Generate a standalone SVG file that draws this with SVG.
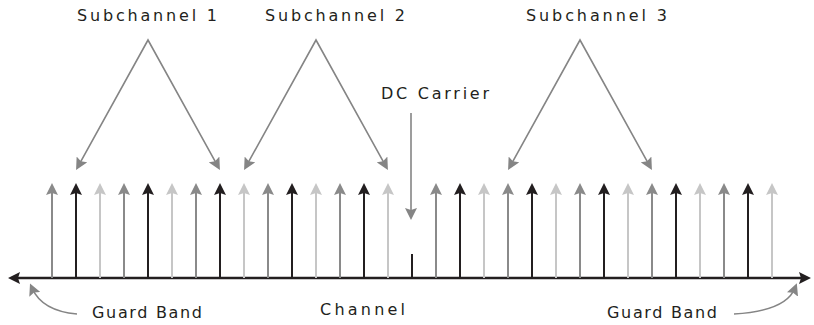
<svg xmlns="http://www.w3.org/2000/svg" width="814" height="325" viewBox="0 0 814 325">
<style>
text{font-family:"DejaVu Sans","Liberation Sans",sans-serif;font-size:16px;fill:#231f20}
.mid{stroke:#8a8a8a;stroke-width:2;fill:none}
.blk{stroke:#231f20;stroke-width:2;fill:none}
.lt{stroke:#c6c6c6;stroke-width:2;fill:none}
.ptr{stroke:#858585;stroke-width:1.6;fill:none}
.axis{stroke:#231f20;stroke-width:2.5;fill:none}
</style>
<defs>
<marker id="hMid" viewBox="0 0 12 12" refX="7" refY="6" markerWidth="12" markerHeight="12" markerUnits="userSpaceOnUse" orient="auto"><path d="M0,0 L12,6 L0,12 L2,6 z" fill="#8a8a8a"/></marker>
<marker id="hBlk" viewBox="0 0 12 12" refX="7" refY="6" markerWidth="12" markerHeight="12" markerUnits="userSpaceOnUse" orient="auto"><path d="M0,0 L12,6 L0,12 L2,6 z" fill="#231f20"/></marker>
<marker id="hLt" viewBox="0 0 12 12" refX="7" refY="6" markerWidth="12" markerHeight="12" markerUnits="userSpaceOnUse" orient="auto"><path d="M0,0 L12,6 L0,12 L2,6 z" fill="#c6c6c6"/></marker>
<marker id="hPtr" viewBox="0 0 12 12" refX="7" refY="6" markerWidth="12" markerHeight="12" markerUnits="userSpaceOnUse" orient="auto-start-reverse"><path d="M0,0 L12,6 L0,12 L2,6 z" fill="#858585"/></marker>
<marker id="hAx" viewBox="0 0 12 12" refX="7" refY="6" markerWidth="12" markerHeight="12" markerUnits="userSpaceOnUse" orient="auto-start-reverse"><path d="M0,0 L12,6 L0,12 L2,6 z" fill="#231f20"/></marker>
</defs>

<g id="subchannel1-label"><text x="77" y="21" textLength="140" lengthAdjust="spacing">Subchannel 1</text></g>
<g id="subchannel2-label"><text x="265" y="21" textLength="140" lengthAdjust="spacing">Subchannel 2</text></g>
<g id="subchannel3-label"><text x="526" y="21" textLength="141" lengthAdjust="spacing">Subchannel 3</text></g>
<g id="dc-carrier-label"><text x="381" y="99" textLength="108" lengthAdjust="spacing">DC Carrier</text></g>
<g id="guard-band-left-label"><text x="92" y="318" textLength="110" lengthAdjust="spacing">Guard Band</text></g>
<g id="channel-label"><text x="320" y="315" textLength="85" lengthAdjust="spacing">Channel</text></g>
<g id="guard-band-right-label"><text x="607" y="318" textLength="110" lengthAdjust="spacing">Guard Band</text></g>

<g id="channel-axis"><line class="axis" x1="13" y1="278" x2="806" y2="278" marker-start="url(#hAx)" marker-end="url(#hAx)"/></g>

<g id="subcarriers">
<line class="mid" x1="52" y1="278" x2="52" y2="188" marker-end="url(#hMid)"/>
<line class="blk" x1="76" y1="278" x2="76" y2="188" marker-end="url(#hBlk)"/>
<line class="lt" x1="100" y1="278" x2="100" y2="188" marker-end="url(#hLt)"/>
<line class="mid" x1="124" y1="278" x2="124" y2="188" marker-end="url(#hMid)"/>
<line class="blk" x1="148" y1="278" x2="148" y2="188" marker-end="url(#hBlk)"/>
<line class="lt" x1="172" y1="278" x2="172" y2="188" marker-end="url(#hLt)"/>
<line class="mid" x1="196" y1="278" x2="196" y2="188" marker-end="url(#hMid)"/>
<line class="blk" x1="220" y1="278" x2="220" y2="188" marker-end="url(#hBlk)"/>
<line class="lt" x1="244" y1="278" x2="244" y2="188" marker-end="url(#hLt)"/>
<line class="mid" x1="268" y1="278" x2="268" y2="188" marker-end="url(#hMid)"/>
<line class="blk" x1="292" y1="278" x2="292" y2="188" marker-end="url(#hBlk)"/>
<line class="lt" x1="316" y1="278" x2="316" y2="188" marker-end="url(#hLt)"/>
<line class="mid" x1="340" y1="278" x2="340" y2="188" marker-end="url(#hMid)"/>
<line class="blk" x1="364" y1="278" x2="364" y2="188" marker-end="url(#hBlk)"/>
<line class="lt" x1="388" y1="278" x2="388" y2="188" marker-end="url(#hLt)"/>
<line class="mid" x1="436" y1="278" x2="436" y2="188" marker-end="url(#hMid)"/>
<line class="blk" x1="460" y1="278" x2="460" y2="188" marker-end="url(#hBlk)"/>
<line class="lt" x1="484" y1="278" x2="484" y2="188" marker-end="url(#hLt)"/>
<line class="mid" x1="508" y1="278" x2="508" y2="188" marker-end="url(#hMid)"/>
<line class="blk" x1="532" y1="278" x2="532" y2="188" marker-end="url(#hBlk)"/>
<line class="lt" x1="556" y1="278" x2="556" y2="188" marker-end="url(#hLt)"/>
<line class="mid" x1="580" y1="278" x2="580" y2="188" marker-end="url(#hMid)"/>
<line class="blk" x1="604" y1="278" x2="604" y2="188" marker-end="url(#hBlk)"/>
<line class="lt" x1="628" y1="278" x2="628" y2="188" marker-end="url(#hLt)"/>
<line class="mid" x1="652" y1="278" x2="652" y2="188" marker-end="url(#hMid)"/>
<line class="blk" x1="676" y1="278" x2="676" y2="188" marker-end="url(#hBlk)"/>
<line class="lt" x1="700" y1="278" x2="700" y2="188" marker-end="url(#hLt)"/>
<line class="mid" x1="724" y1="278" x2="724" y2="188" marker-end="url(#hMid)"/>
<line class="blk" x1="748" y1="278" x2="748" y2="188" marker-end="url(#hBlk)"/>
<line class="lt" x1="772" y1="278" x2="772" y2="188" marker-end="url(#hLt)"/>
</g>
<g id="dc-carrier"><line class="blk" x1="412" y1="278" x2="412" y2="254"/></g>

<g id="connectors">
<polyline class="ptr" points="78.5,165.6 148,40 217.5,165.6" marker-start="url(#hPtr)" marker-end="url(#hPtr)"/>
<polyline class="ptr" points="246.5,165.6 316,40 385.5,165.6" marker-start="url(#hPtr)" marker-end="url(#hPtr)"/>
<polyline class="ptr" points="510.5,165.6 580,40 649.5,165.6" marker-start="url(#hPtr)" marker-end="url(#hPtr)"/>
<line class="ptr" x1="411" y1="113" x2="411" y2="215" marker-end="url(#hPtr)"/>
<path class="ptr" d="M77,314 Q42,311 32,288" marker-end="url(#hPtr)"/>
<path class="ptr" d="M734,314 Q786,311 795,288" marker-end="url(#hPtr)"/>
</g>
</svg>
